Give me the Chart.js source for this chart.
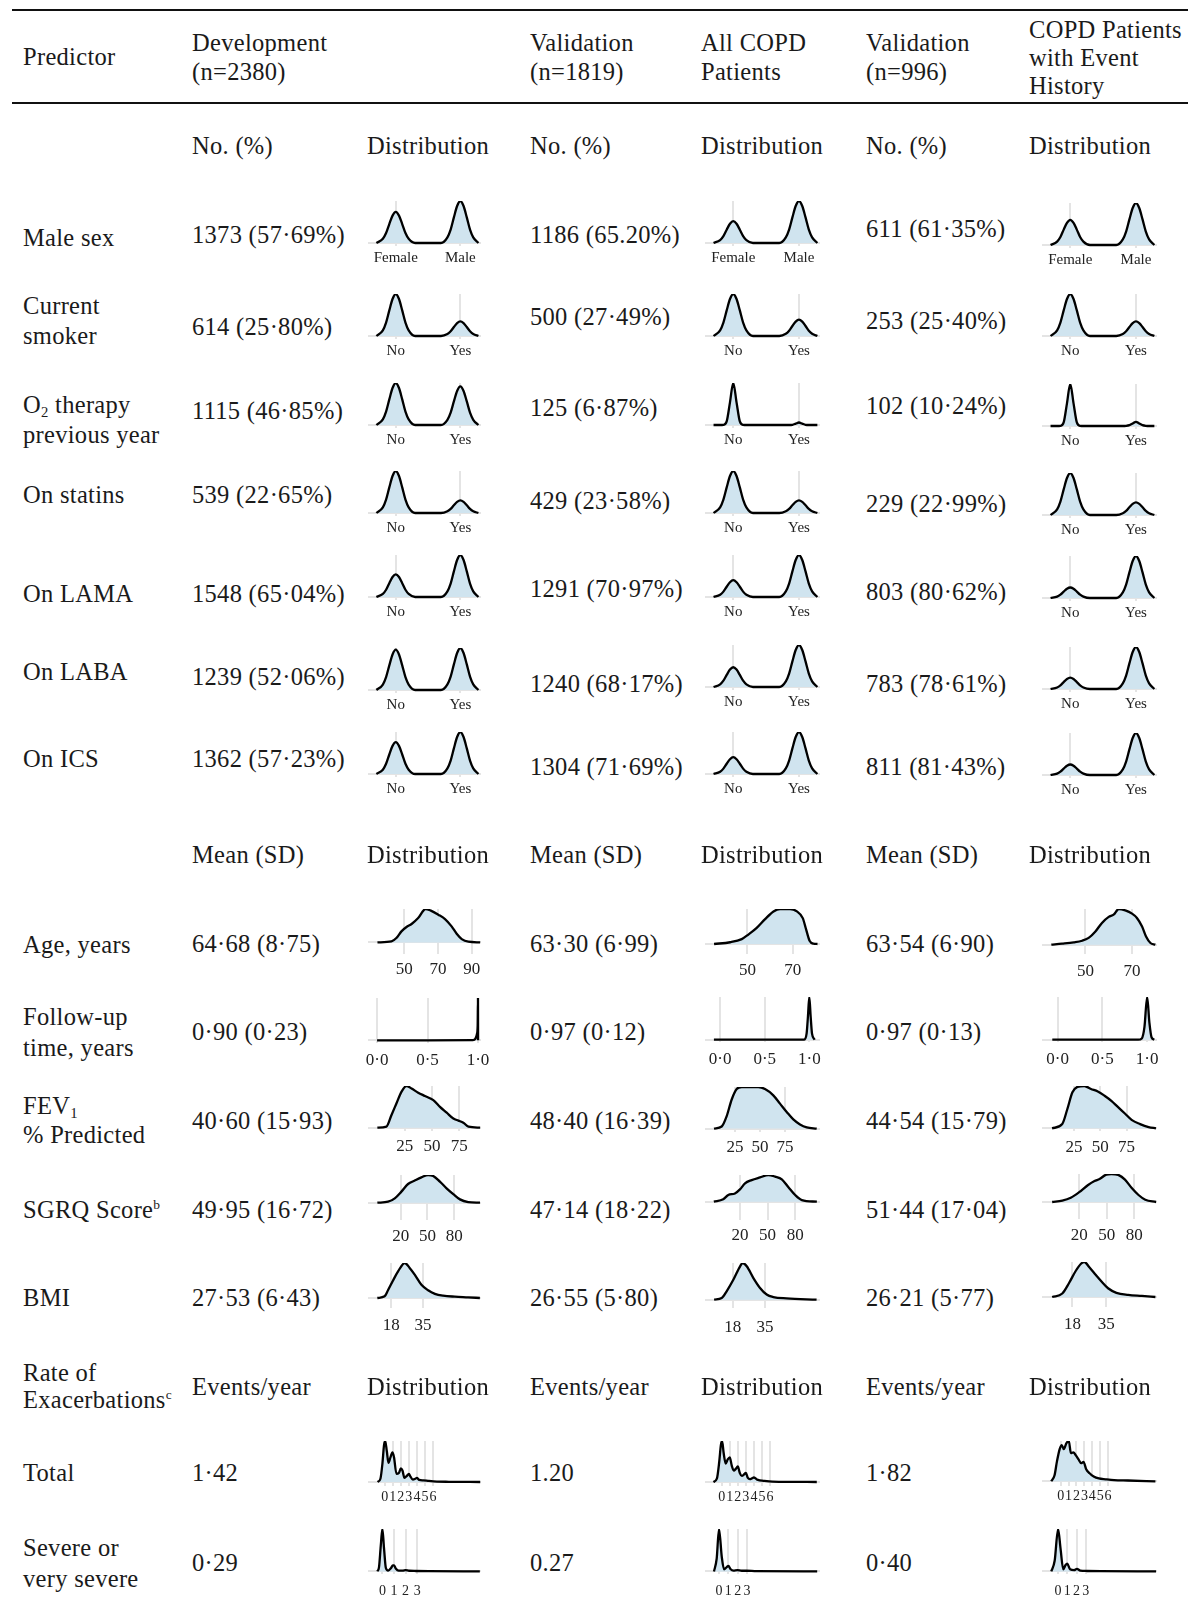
<!DOCTYPE html>
<html>
<head>
<meta charset="utf-8">
<script src="https://cdn.jsdelivr.net/npm/chart.js@4.4.1/dist/chart.umd.min.js"></script>
<style>
  html, body { margin: 0; padding: 0; background: #fff; }
  #page { position: relative; width: 1190px; height: 1597px; overflow: hidden;
          font-family: "Liberation Serif", "Times New Roman", serif; color: #1a1a1a; }
  .t { position: absolute; font-size: 24.5px; line-height: 1; letter-spacing: 0.3px; white-space: nowrap; transform: translateY(-50%); }
  .rule { position: absolute; left: 12px; width: 1176px; height: 2px; background: #111; }
  canvas { position: absolute; }
  sub { font-size: 0.6em; vertical-align: -0.3em; line-height: 0; }
  sup { font-size: 0.55em; vertical-align: 0.65em; line-height: 0; }
</style>
</head>
<body>
<div id="page"></div>
<script>
// ---------- table text ----------
const HEADERS = [['Predictor'], ['Development', '(n=2380)'], ['Validation', '(n=1819)'], ['All COPD', 'Patients'],
                 ['Validation', '(n=996)'], ['COPD Patients', 'with Event', 'History']];

const BIN_PREDICTORS = [['Male sex'], ['Current', 'smoker'], ['O<sub>2</sub> therapy', 'previous year'],
                        ['On statins'], ['On LAMA'], ['On LABA'], ['On ICS']];
const BIN_DEV  = ['1373 (57·69%)', '614 (25·80%)', '1115 (46·85%)', '539 (22·65%)', '1548 (65·04%)', '1239 (52·06%)', '1362 (57·23%)'];
const BIN_VAL1 = ['1186 (65.20%)', '500 (27·49%)', '125 (6·87%)', '429 (23·58%)', '1291 (70·97%)', '1240 (68·17%)', '1304 (71·69%)'];
const BIN_VAL2 = ['611 (61·35%)', '253 (25·40%)', '102 (10·24%)', '229 (22·99%)', '803 (80·62%)', '783 (78·61%)', '811 (81·43%)'];

const CONT_PREDICTORS = [['Age, years'], ['Follow-up', 'time, years'], ['FEV<sub>1</sub>', '% Predicted'], ['SGRQ Score<sup>b</sup>'], ['BMI']];
const CONT_DEV  = ['64·68 (8·75)', '0·90 (0·23)', '40·60 (15·93)', '49·95 (16·72)', '27·53 (6·43)'];
const CONT_VAL1 = ['63·30 (6·99)', '0·97 (0·12)', '48·40 (16·39)', '47·14 (18·22)', '26·55 (5·80)'];
const CONT_VAL2 = ['63·54 (6·90)', '0·97 (0·13)', '44·54 (15·79)', '51·44 (17·04)', '26·21 (5·77)'];

const EXAC_PREDICTORS = [['Total'], ['Severe or', 'very severe']];
const EXAC_DEV  = ['1·42', '0·29'];
const EXAC_VAL1 = ['1.20', '0.27'];
const EXAC_VAL2 = ['1·82', '0·40'];

// ---------- distribution curves ----------
const BIN_LABELS = [['Female', 'Male'], ['No', 'Yes'], ['No', 'Yes'], ['No', 'Yes'], ['No', 'Yes'], ['No', 'Yes'], ['No', 'Yes']];
const BIN_TICKS = [0, 1];
const BIN_X = [-0.3, -0.2, -0.15, -0.1, -0.05, 0, 0.05, 0.1, 0.15, 0.2, 0.3,
               0.7, 0.8, 0.85, 0.9, 0.95, 1, 1.05, 1.1, 1.15, 1.2, 1.28];

const SEX_Y = [
  [0, .1, .237, .451, .651, .74, .651, .451, .237, .1, 0,      0, .135, .32, .61, .88, 1, .88, .61, .32, .135, 0],
  [0, .07, .166, .317, .458, .52, .458, .317, .166, .07, 0,    0, .135, .32, .61, .88, 1, .88, .61, .32, .135, 0],
  [0, .081, .192, .366, .528, .6, .528, .366, .192, .081, 0,   0, .135, .32, .61, .88, 1, .88, .61, .32, .135, 0]];
const SMOKE_Y = [
  [0, .135, .32, .61, .88, 1, .88, .61, .32, .135, 0,   0, .047, .112, .214, .308, .35, .308, .214, .112, .047, 0],
  [0, .135, .32, .61, .88, 1, .88, .61, .32, .135, 0,   0, .053, .125, .238, .343, .39, .343, .238, .125, .053, 0],
  [0, .135, .32, .61, .88, 1, .88, .61, .32, .135, 0,   0, .047, .112, .214, .308, .35, .308, .214, .112, .047, 0]];
const O2_Y = [
  [0, .135, .32, .61, .88, 1, .88, .61, .32, .135, 0,   0, .124, .294, .561, .81, .92, .81, .561, .294, .124, 0],
  [0, 0, .004, .085, .54, 1, .54, .085, .004, 0, 0,      0, 0, 0, .005, .032, .06, .032, .005, 0, 0, 0],
  [0, 0, .004, .085, .54, 1, .54, .085, .004, 0, 0,      0, 0, .004, .02, .06, .1, .06, .02, .004, 0, 0]];
const STATIN_Y = [
  [0, .135, .32, .61, .88, 1, .88, .61, .32, .135, 0,   0, .041, .096, .183, .264, .3, .264, .183, .096, .041, 0],
  [0, .135, .32, .61, .88, 1, .88, .61, .32, .135, 0,   0, .041, .096, .183, .264, .3, .264, .183, .096, .041, 0],
  [0, .135, .32, .61, .88, 1, .88, .61, .32, .135, 0,   0, .041, .096, .183, .264, .3, .264, .183, .096, .041, 0]];
const LAMA_Y = [
  [0, .073, .173, .329, .475, .54, .475, .329, .173, .073, 0,  0, .135, .32, .61, .88, 1, .88, .61, .32, .135, 0],
  [0, .054, .128, .244, .352, .4, .352, .244, .128, .054, 0,   0, .135, .32, .61, .88, 1, .88, .61, .32, .135, 0],
  [0, .034, .08, .153, .22, .25, .22, .153, .08, .034, 0,      0, .135, .32, .61, .88, 1, .88, .61, .32, .135, 0]];
const LABA_Y = [
  [0, .13, .307, .586, .845, .96, .845, .586, .307, .13, 0,    0, .135, .32, .61, .88, 1, .88, .61, .32, .135, 0],
  [0, .063, .15, .287, .414, .47, .414, .287, .15, .063, 0,    0, .135, .32, .61, .88, 1, .88, .61, .32, .135, 0],
  [0, .036, .086, .165, .238, .27, .238, .165, .086, .036, 0,  0, .135, .32, .61, .88, 1, .88, .61, .32, .135, 0]];
const ICS_Y = [
  [0, .103, .243, .464, .669, .76, .669, .464, .243, .103, 0,  0, .135, .32, .61, .88, 1, .88, .61, .32, .135, 0],
  [0, .054, .128, .244, .352, .4, .352, .244, .128, .054, 0,   0, .135, .32, .61, .88, 1, .88, .61, .32, .135, 0],
  [0, .034, .08, .153, .22, .25, .22, .153, .08, .034, 0,      0, .135, .32, .61, .88, 1, .88, .61, .32, .135, 0]];

const AGE_TICKS = [[50, 70, 90], [50, 70], [50, 70]];
const AGE_X = [
  [34.2, 42.5, 45.4, 48.4, 51.4, 54.4, 58.3, 62.7, 65.8, 70.2, 74.2, 78.1, 81.1, 84.1, 88, 95],
  [35.3, 42.4, 47.5, 50.4, 54.1, 57.8, 61.5, 64.4, 68.8, 71.8, 74.4, 75.9, 77.4, 79.1, 80.9],
  [35.4, 40, 45, 48.6, 51.4, 54.3, 57.1, 60, 62.1, 64.3, 67.1, 70, 72.1, 74.3, 76, 77.9, 80]];
const AGE_Y = [
  [0, .03, .13, .33, .46, .55, .73, 1, .95, .83, .7, .48, .26, .1, .02, 0],
  [0, .05, .14, .27, .46, .71, .93, 1, 1, .93, .74, .41, .095, .01, 0],
  [0, .028, .065, .11, .19, .37, .61, .78, .84, 1, .96, .87, .75, .51, .23, .047, 0]];

const FOLLOW_TICKS = [0, 0.5, 1];
const FOLLOW_LABELS = ['0·0', '0·5', '1·0'];
const FOLLOW_X = [
  [0, 0.5, 0.95, 0.975, 0.99, 0.997, 1.0, 1.001],
  [-0.07, 0.5, 0.94, 0.97, 0.985, 1.0, 1.015, 1.03, 1.06],
  [-0.06, 0.5, 0.9, 0.94, 0.97, 1.0, 1.025, 1.05, 1.08]];
const FOLLOW_Y = [
  [0, 0, 0.005, 0.04, 0.15, 0.35, 1, 0],
  [0, 0, 0, 0.15, 0.55, 1, 0.55, 0.15, 0],
  [0, 0, 0, 0.03, 0.3, 1, 0.4, 0.05, 0]];

const FEV_TICKS = [25, 50, 75];
const FEV_X = [
  [-0.2, 8.1, 12.7, 17.3, 21.9, 26.5, 31.2, 37.3, 43.5, 51.2, 57.3, 63.5, 69.6, 74.2, 78.8, 83.5, 94.2],
  [4, 11.7, 16.7, 21.7, 26.7, 31.7, 40, 48.3, 55, 63.3, 70, 76.7, 83.3, 90, 96.7, 106.7],
  [4, 13.7, 18.5, 23.4, 28.2, 34.7, 41.1, 47.6, 54, 60.5, 66.9, 73.4, 79.8, 87.9, 96, 103]];
const FEV_Y = [
  [0, .024, .3, .58, .86, 1, .94, .84, .76, .66, .5, .36, .22, .17, .12, .024, 0],
  [0, .05, .3, .7, .95, 1, 1, 1, .95, .8, .6, .4, .22, .1, .03, 0],
  [0, .1, .45, .85, .98, 1, .93, .87, .77, .65, .5, .35, .2, .1, .03, 0]];

const SGRQ_TICKS = [20, 50, 80];
const SGRQ_X = [
  [-6.2, 5.8, 13.3, 20.75, 28.2, 35.7, 43.2, 50.7, 56.4, 63.9, 71.4, 78.9, 86.4, 95.7, 108.9],
  [-8.4, 1.8, 7.3, 14.5, 20, 25.5, 32.7, 41.8, 50.9, 58.2, 65.5, 72.7, 80, 87.3, 103.6],
  [-9.6, 1.5, 10.7, 20, 29.3, 36.7, 42.2, 49.6, 55.2, 62.6, 70, 77.4, 84.8, 92.2, 104]];
const SGRQ_Y = [
  [0, .036, .157, .4, .675, .8, .915, 1, .964, .76, .52, .31, .12, .024, 0],
  [0, .09, .25, .31, .46, .69, .81, .91, 1, .94, .84, .54, .25, .06, 0],
  [0, .05, .15, .35, .6, .75, .82, .98, 1, .97, .8, .5, .25, .08, 0]];

const BMI_TICKS = [18, 35];
const BMI_X = [
  [10.5, 14.4, 16.2, 18.9, 21.6, 25.2, 27.8, 30.5, 34.1, 37.7, 41.3, 45.7, 52, 59.1, 65.4],
  [8.2, 12.2, 14.8, 18.4, 21.9, 23.3, 25.4, 28.9, 32.4, 35.9, 39.4, 46.4, 62.2],
  [7.8, 12.9, 16.3, 19.7, 22.3, 24, 26.5, 29.9, 32.5, 35.9, 40.1, 46, 52.9, 59.7]];
const BMI_Y = [
  [0, .048, .22, .5, .76, 1, .86, .67, .38, .22, .12, .067, .038, .019, 0],
  [0, .045, .23, .55, .91, 1, .91, .59, .32, .14, .073, .036, 0],
  [0, .1, .4, .75, .95, 1, .85, .62, .45, .25, .12, .06, .03, 0]];

const TOTAL_TICKS = [0, 1, 2, 3, 4, 5, 6];
const TOTAL_X = [
  [-0.9, -0.55, -0.3, -0.1, 0.05, 0.25, 0.45, 0.7, 0.95, 1.15, 1.45, 1.75, 2.0, 2.2, 2.45, 2.75, 3.0, 3.2, 3.5, 3.8, 4.0, 4.3, 4.8, 5.5, 6.5, 8, 11.9],
  [-1.03, -0.6, -0.3, -0.1, 0.05, 0.25, 0.5, 0.75, 1.0, 1.25, 1.5, 1.75, 2.0, 2.25, 2.5, 2.75, 3.0, 3.25, 3.5, 3.75, 4.0, 4.5, 5.2, 6.3, 11.8],
  [-1.2, -0.78, -0.47, -0.13, 0.13, 0.39, 0.73, 1.03, 1.29, 1.6, 1.9, 2.24, 2.59, 2.89, 3.23, 3.66, 4.18, 4.83, 5.69, 6.77, 8.5, 12]];
const TOTAL_Y = [
  [0, .08, .45, .9, 1, .75, .47, .6, .72, .6, .2, .22, .33, .28, .1, .15, .2, .13, .06, .08, .1, .05, .04, .025, .01, .005, 0],
  [0, .08, .5, .9, 1, .7, .45, .55, .6, .4, .28, .32, .38, .22, .15, .18, .22, .1, .07, .09, .11, .05, .03, .01, 0],
  [0, .15, .5, .8, .9, .8, .95, 1, .7, .72, .65, .55, .45, .48, .3, .2, .12, .07, .05, .03, .02, 0]];

const SEVERE_TICKS = [0, 1, 2, 3];
const SEVERE_X = [
  [-0.43, -0.29, -0.14, 0, 0.14, 0.3, 0.5, 0.75, 0.9, 1.0, 1.15, 1.4, 1.75, 2.0, 2.3, 2.9, 4, 8.4],
  [-0.54, -0.25, 0, 0.29, 0.54, 0.82, 1.0, 1.25, 1.54, 1.96, 2.43, 2.96, 4, 10.5],
  [-0.74, -0.37, 0, 0.26, 0.56, 0.81, 1.0, 1.3, 1.74, 2.04, 2.4, 3.15, 4.6, 10.6]];
const SEVERE_Y = [
  [0, .1, .6, 1, .55, .08, .02, .08, .14, .14, .07, .02, .02, .03, .015, .01, .005, 0],
  [0, .3, 1, .35, .05, .1, .13, .05, .02, .03, .015, .015, .005, 0],
  [0, .25, 1, .55, .05, .15, .18, .05, .03, .06, .02, .01, .005, 0]];

// ---------- layout ----------
const FONT = '"Liberation Serif", "Times New Roman", serif';
const BLUE = 'rgb(208, 228, 239)';
const GRID = '#e4e4e4';
const PANEL_H = 45;
const TEXT_X = [23, 192, 530, 866];
const DIST_X = [367, 701, 1029];
const COL_PX = [[368, 481], [705, 820], [1042, 1157]];

const page = document.getElementById('page');

function text(x, y, html) {
  const d = document.createElement('div');
  d.className = 't';
  d.style.left = x + 'px';
  d.style.top = y + 'px';
  d.innerHTML = html;
  page.appendChild(d);
}
function lines(x, ys, arr) { arr.forEach((s, i) => text(x, ys[i], s)); }
function rule(y) {
  const d = document.createElement('div');
  d.className = 'rule';
  d.style.top = (y - 1) + 'px';
  page.appendChild(d);
}

function spark(col, baseline, h, xs, ys, range, ticks, labels, fs, labelOff) {
  const PAD_X = 26, PAD_TOP = 3, AXIS_H = 40;
  const [left, right] = COL_PX[col];
  const cv = document.createElement('canvas');
  cv.width = right - left + 2 * PAD_X;
  cv.height = PAD_TOP + PANEL_H + AXIS_H;
  cv.style.left = (left - PAD_X) + 'px';
  cv.style.top = (baseline - h - PAD_TOP) + 'px';
  page.appendChild(cv);
  const yMin = -(PANEL_H - h) / h;
  const pad = Math.max(0, labelOff - (PANEL_H - h) - 0.6 * fs);
  new Chart(cv, {
    type: 'line',
    data: { datasets: [{
      data: xs.map((x, i) => ({ x: x, y: ys[i] })),
      borderColor: '#000', borderWidth: 2.3, backgroundColor: BLUE, fill: 'origin',
      pointRadius: 0, cubicInterpolationMode: 'monotone'
    }] },
    options: {
      responsive: false, animation: false, devicePixelRatio: 1, events: [],
      layout: { padding: { top: PAD_TOP, left: PAD_X, right: PAD_X, bottom: 0 } },
      plugins: { legend: { display: false }, tooltip: { enabled: false } },
      scales: {
        x: {
          type: 'linear', min: range[0], max: range[1],
          afterBuildTicks: s => { s.ticks = ticks.map(v => ({ value: v })); },
          afterFit: s => { s.height = AXIS_H; s.paddingLeft = 0; s.paddingRight = 0; },
          grid: { color: GRID, lineWidth: 2, drawTicks: false },
          border: { display: false },
          ticks: { autoSkip: false, maxRotation: 0, minRotation: 0, padding: pad, color: '#222',
                   font: { family: FONT, size: fs }, callback: (v, i) => labels[i] }
        },
        y: {
          min: yMin, max: 1,
          afterBuildTicks: s => { s.ticks = [{ value: 0 }]; },
          afterFit: s => { s.width = 0; },
          grid: { color: GRID, lineWidth: 2, drawTicks: false },
          border: { display: false },
          ticks: { display: false }
        }
      }
    }
  });
}

// header
rule(10);
rule(103);
text(TEXT_X[0], 57, HEADERS[0][0]);
lines(TEXT_X[1], [43, 72], HEADERS[1]);
lines(TEXT_X[2], [43, 72], HEADERS[2]);
lines(DIST_X[1], [43, 72], HEADERS[3]);
lines(TEXT_X[3], [43, 72], HEADERS[4]);
lines(DIST_X[2], [30, 58, 86], HEADERS[5]);

function sectionHeader(y, label) {
  for (let c = 0; c < 3; c++) {
    text(TEXT_X[c + 1], y, label);
    text(DIST_X[c], y, 'Distribution');
  }
}

// binary predictors
sectionHeader(146, 'No. (%)');
const BIN_LABEL_Y = [[238.4], [305.7, 336.3], [404.5, 435], [495], [594], [671.5], [759]];
const BIN_VALUE_Y = [[235.4, 235.4, 229.3], [327, 317, 321], [410.6, 407.6, 405.6], [495, 501, 504],
                     [594, 589, 592], [676.6, 683.7, 683.7], [759, 767, 767]];
const BIN_BASE = [[243.3, 243.3, 244.6], [336, 336, 336], [425, 425, 426], [513.3, 513.3, 514.6],
                  [597.3, 597.3, 598], [690, 686.7, 689], [774.3, 774.3, 775]];
const BIN_SERIES = [SEX_Y, SMOKE_Y, O2_Y, STATIN_Y, LAMA_Y, LABA_Y, ICS_Y];
const BIN_VALUES = [BIN_DEV, BIN_VAL1, BIN_VAL2];
BIN_PREDICTORS.forEach((p, r) => {
  lines(TEXT_X[0], BIN_LABEL_Y[r], p);
  for (let c = 0; c < 3; c++) {
    text(TEXT_X[c + 1], BIN_VALUE_Y[r][c], BIN_VALUES[c][r]);
    spark(c, BIN_BASE[r][c], 42, BIN_X, BIN_SERIES[r][c], [-0.43, 1.32], BIN_TICKS, BIN_LABELS[r], 15, 15);
  }
});

// continuous predictors
sectionHeader(855, 'Mean (SD)');
const CONT_LABEL_Y = [[944.6], [1017, 1047.5], [1105.6, 1135], [1209.5], [1298]];
const CONT_VALUE_Y = [943.6, 1032, 1121, 1209.5, 1298];
const CONT_VALUES = [CONT_DEV, CONT_VAL1, CONT_VAL2];
const CONT_ROWS = [
  { xs: AGE_X, ys: AGE_Y, ticks: c => AGE_TICKS[c], labels: c => AGE_TICKS[c].map(String),
    base: [942.7, 944.3, 945], h: [33.4, 35, 35.7], off: 27,
    range: [[28.6, 95.5], [31.3, 82], [31.4, 80.7]] },
  { xs: FOLLOW_X, ys: FOLLOW_Y, ticks: () => FOLLOW_TICKS, labels: () => FOLLOW_LABELS,
    base: [1040, 1040, 1040], h: [42.3, 42.7, 42.7], off: 20,
    range: [[-0.09, 1.03], [-0.17, 1.12], [-0.175, 1.11]] },
  { xs: FEV_X, ys: FEV_Y, ticks: () => FEV_TICKS, labels: () => FEV_TICKS.map(String),
    base: [1127.7, 1128.3, 1128.3], h: [41.7, 41.6, 42.3], off: 19,
    range: [[-8.8, 95], [-5, 110], [-5.6, 104]] },
  { xs: SGRQ_X, ys: SGRQ_Y, ticks: () => SGRQ_TICKS, labels: () => SGRQ_TICKS.map(String),
    base: [1202.7, 1201.7, 1202.3], h: [27.7, 26.7, 28], off: 34,
    range: [[-16.7, 110], [-18, 107], [-20.7, 105]] },
  { xs: BMI_X, ys: BMI_Y, ticks: () => BMI_TICKS, labels: () => BMI_TICKS.map(String),
    base: [1298.3, 1300, 1296.7], h: [35, 36.7, 35], off: 28,
    range: [[5.5, 66], [3.4, 64], [2.7, 60.5]] }
];
CONT_PREDICTORS.forEach((p, r) => {
  lines(TEXT_X[0], CONT_LABEL_Y[r], p);
  const row = CONT_ROWS[r];
  for (let c = 0; c < 3; c++) {
    text(TEXT_X[c + 1], CONT_VALUE_Y[r], CONT_VALUES[c][r]);
    spark(c, row.base[c], row.h[c], row.xs[c], row.ys[c], row.range[c], row.ticks(c), row.labels(c), 17, row.off);
  }
});

// exacerbations
lines(TEXT_X[0], [1373, 1400], ['Rate of', 'Exacerbations<sup>c</sup>']);
sectionHeader(1387, 'Events/year');
const EXAC_LABEL_Y = [[1473], [1548, 1579]];
const EXAC_VALUE_Y = [1473, 1563];
const EXAC_VALUES = [EXAC_DEV, EXAC_VAL1, EXAC_VAL2];
const EXAC_ROWS = [
  { xs: TOTAL_X, ys: TOTAL_Y, ticks: TOTAL_TICKS, base: [1481.7, 1481.7, 1481], h: [41, 41, 40.3], off: 15,
    range: [[-2.1, 12], [-2.07, 12.2], [-2.37, 12.2]] },
  { xs: SEVERE_X, ys: SEVERE_Y, ticks: SEVERE_TICKS, base: [1571.7, 1571.7, 1571.7], h: [42.4, 42.4, 42.4], off: 20,
    range: [[-1.24, 8.5], [-1.5, 10.8], [-1.74, 10.7]] }
];
EXAC_PREDICTORS.forEach((p, r) => {
  lines(TEXT_X[0], EXAC_LABEL_Y[r], p);
  const row = EXAC_ROWS[r];
  for (let c = 0; c < 3; c++) {
    text(TEXT_X[c + 1], EXAC_VALUE_Y[r], EXAC_VALUES[c][r]);
    spark(c, row.base[c], row.h[c], row.xs[c], row.ys[c], row.range[c], row.ticks, row.ticks.map(String), 14, row.off);
  }
});
</script>
</body>
</html>
